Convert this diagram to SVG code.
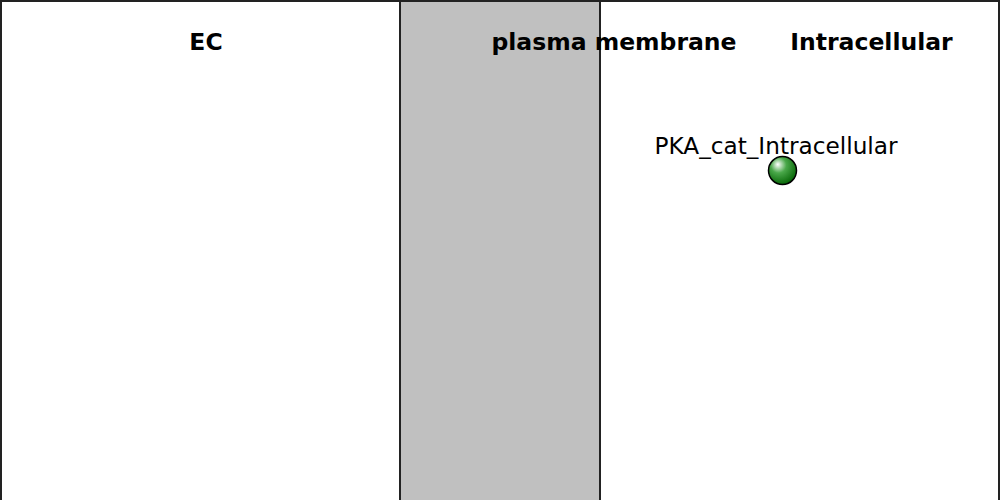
<svg xmlns="http://www.w3.org/2000/svg" width="1000" height="500" viewBox="0 0 1000 500">
<style>
.comp{stroke:#222;stroke-width:2}
.ctitle{font-family:"DejaVu Sans",sans-serif;font-weight:bold;font-size:23.5px;text-anchor:middle;fill:#000}
.nlabel{font-family:"DejaVu Sans",sans-serif;font-size:23.2px;text-anchor:middle;fill:#000}
</style>
<defs>
<radialGradient id="g" cx="0.4" cy="0.35" r="0.7" fx="0.33" fy="0.28">
<stop offset="0" stop-color="#ffffff"/>
<stop offset="0.4" stop-color="#4aa84a"/>
<stop offset="1" stop-color="#006000"/>
</radialGradient>
</defs>
<g id="EC">
<rect class="comp" x="1" y="1" width="399" height="500" fill="#fff"/>
<text class="ctitle" x="206" y="50">EC</text>
</g>
<g id="plasma_membrane">
<rect class="comp" x="400" y="1" width="200" height="500" fill="#c0c0c0"/>
</g>
<g id="Intracellular">
<rect class="comp" x="600" y="1" width="399" height="500" fill="#fff"/>
<text class="ctitle" x="871.5" y="50">Intracellular</text>
</g>
<text class="ctitle" x="614" y="50">plasma membrane</text>
<g id="connectors"></g>
<g id="PKA_cat_Intracellular">
<text class="nlabel" x="776" y="154">PKA_cat_Intracellular</text>
<circle cx="782.5" cy="170.5" r="14" fill="url(#g)" stroke="#000" stroke-width="1.5"/>
</g>
</svg>
